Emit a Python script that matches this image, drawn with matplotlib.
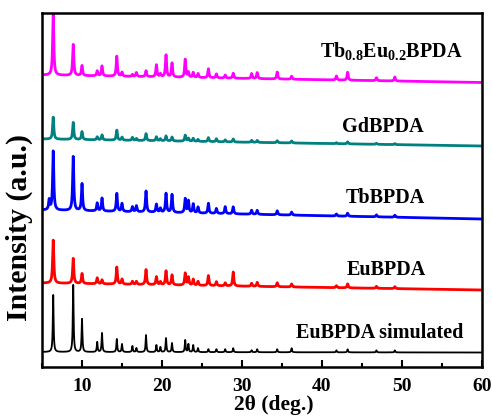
import numpy as np
import matplotlib
matplotlib.use("Agg")
import matplotlib.pyplot as plt
from matplotlib.ticker import MultipleLocator

# ---- data (2theta in deg, intensity in a.u.) ----
peak_pos = [5.9, 6.4, 8.9, 10.0, 11.9, 12.5, 14.35, 15.0, 16.3, 16.8, 18.0, 19.3,
            19.8, 20.5, 21.25, 22.9, 23.3, 23.9, 24.5, 25.8, 26.8, 27.9, 28.9,
            31.2, 31.9, 34.4, 36.2, 41.8, 43.2, 46.8, 49.1]

h_sim = [0, 57, 67, 33, 10, 19, 13, 8, 6, 4, 17, 7, 5, 14, 9, 12, 8, 7, 4, 3, 3,
         3, 4, 2, 3, 3, 4, 2, 3, 2, 2]
h_eu = [0, 43, 25, 10, 6, 4, 17, 5, 3, 3, 15, 8, 3, 14, 10, 12, 8, 6, 4, 10, 4,
        3, 14, 3, 4, 4, 3, 2, 4, 2, 2]
h_tb = [10, 59, 54, 27, 8, 13, 18, 8, 5, 6, 21, 8, 4, 19, 18, 14, 12, 9, 6, 10, 5,
        7, 7, 4, 4, 4, 3, 2, 3, 2, 2]
h_gd = [0, 22, 17, 8, 3, 5, 10, 3, 3, 2, 7, 4, 2, 5, 4, 6, 3, 3, 2, 4, 3, 2, 3,
        2, 2, 2, 2, 1, 2, 1, 1]
h_tbeu = [0, 62, 31, 10, 5, 10, 20, 4, 2, 4, 6, 12, 3, 22, 14, 18, 5, 5, 4, 9, 4,
          3, 5, 5, 6, 7, 3, 4, 8, 3, 4]

# baseline level at 2theta = 5 and 2theta = 60
base_sim = (15.0, 14.5)
base_eu = (84.0, 77.0)
base_tb = (157.0, 148.0)
base_gd = (228.0, 221.0)
base_tbeu = (292.0, 284.5)

labels = ["EuBPDA simulated", "EuBPDA", "TbBPDA", "GdBPDA",
          r"Tb$_{\mathbf{0.8}}$Eu$_{\mathbf{0.2}}$BPDA"]
label_x = [47.25, 48.1, 47.9, 47.6, 48.6]
label_y = [34, 97, 169, 240, 315]
colors = ["black", "red", "blue", "#008080", "magenta"]

plt.rcParams["font.family"] = ["Liberation Serif", "DejaVu Serif"]
plt.rcParams["font.weight"] = "bold"
plt.rcParams["mathtext.fontset"] = "custom"
plt.rcParams["mathtext.rm"] = "Liberation Serif:bold"
plt.rcParams["mathtext.bf"] = "Liberation Serif:bold"

fig = plt.figure(figsize=(4.92, 4.17), dpi=100)
ax = fig.add_axes([42 / 492, 1 - 367 / 417, 440 / 492, 354 / 417])

tt = np.linspace(5, 60, 5501)


def profile(heights, base, fwhm):
    y = base[0] + (base[1] - base[0]) * (tt - 5) / 55.0
    g = fwhm / 2.0
    for p, h in zip(peak_pos, heights):
        y = y + h * g * g / ((tt - p) ** 2 + g * g)
    return y


series = [(h_sim, base_sim, 0.12, 1.3), (h_eu, base_eu, 0.17, 2.0),
          (h_tb, base_tb, 0.17, 2.0), (h_gd, base_gd, 0.17, 2.0),
          (h_tbeu, base_tbeu, 0.17, 2.0)]
for (h, b, w, lw), c in zip(series, colors):
    ax.plot(tt, profile(h, b, w), color=c, lw=lw)

for t, x, y in zip(labels, label_x, label_y):
    ax.text(x, y, t, ha="center", va="center", fontsize=14.5, fontweight="bold")

ax.set_xlim(5, 60)
ax.set_ylim(0, 354)
ax.set_yticks([])
ax.xaxis.set_major_locator(MultipleLocator(10))
ax.xaxis.set_minor_locator(MultipleLocator(5))
ax.tick_params(axis="x", which="major", direction="in", length=5, width=1.5,
               labelsize=14, pad=8)
ax.tick_params(axis="x", which="minor", direction="in", length=3, width=1.5)
for lab in ax.get_xticklabels():
    lab.set_fontweight("bold")
for s in ax.spines.values():
    s.set_linewidth(1.8)
ax.set_xlabel("2θ (deg.)", fontsize=15.5, fontweight="bold")
ax.xaxis.set_label_coords((274 - 42) / 440, -(395 - 367) / 354)
ax.set_ylabel("Intensity (a.u.)", fontsize=21.5, fontweight="bold")
ax.yaxis.set_label_coords((33 - 42) / 440, (367 - 228) / 354)

fig.savefig("out.png", dpi=100)
